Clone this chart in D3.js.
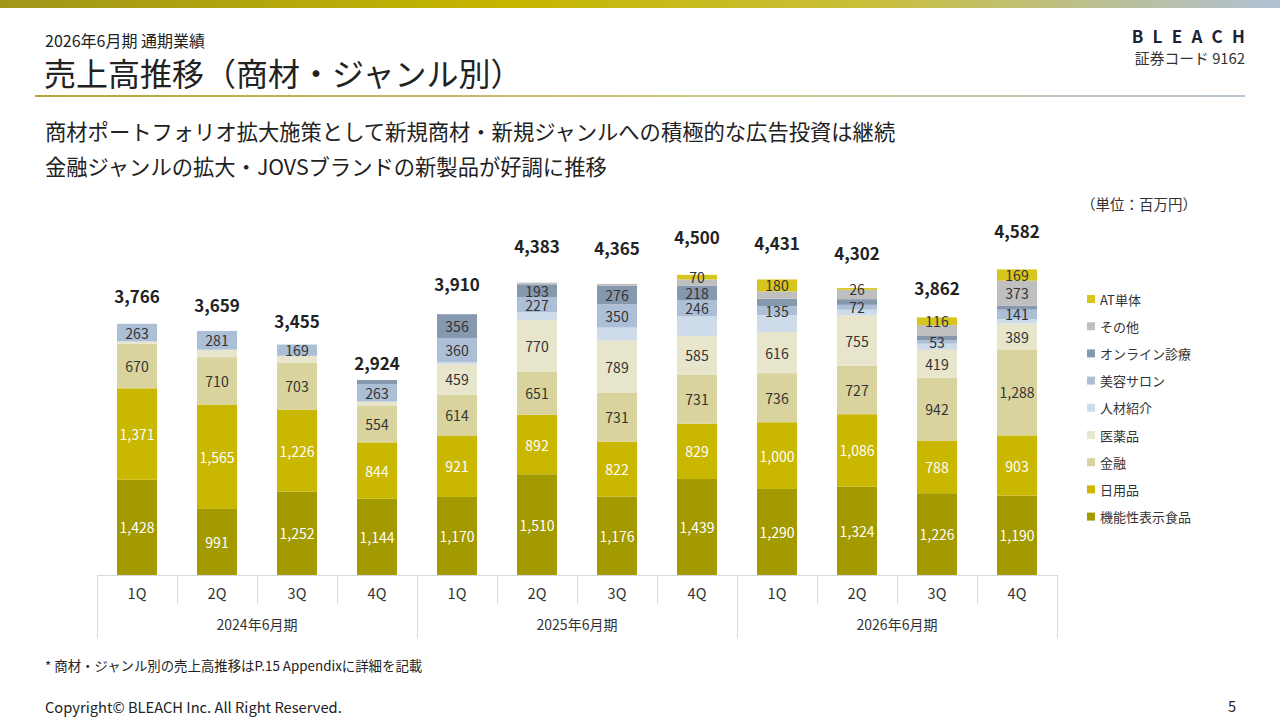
<!DOCTYPE html>
<html lang="ja">
<head>
<meta charset="utf-8">
<script src="https://cdn.jsdelivr.net/npm/d3@7"></script>
<style>
  body { margin: 0; background: #fff; }
  svg { display: block; font-family: "Noto Sans CJK JP", "Noto Sans", sans-serif; }
</style>
</head>
<body>
<div id="chart"></div>
<script>
// quarters and fiscal years
const quarters = ["1Q", "2Q", "3Q", "4Q", "1Q", "2Q", "3Q", "4Q", "1Q", "2Q", "3Q", "4Q"];
const fiscalYears = ["2024年6月期", "2025年6月期", "2026年6月期"];

// series, bottom to top
const seriesNames = ["機能性表示食品", "日用品", "金融", "医薬品", "人材紹介", "美容サロン", "オンライン診療", "その他", "AT単体"];
const kinouseiValues = [1428, 991, 1252, 1144, 1170, 1510, 1176, 1439, 1290, 1324, 1226, 1190];
const nichiyouValues = [1371, 1565, 1226, 844, 921, 892, 822, 829, 1000, 1086, 788, 903];
const kinyuuValues = [670, 710, 703, 554, 614, 651, 731, 731, 736, 727, 942, 1288];
const iyakuValues = [34, 112, 105, 59, 459, 770, 789, 585, 616, 755, 419, 389];
const jinzaiValues = [0, 0, 0, 0, 30, 115, 191, 292, 252, 86, 93, 67];
const biyouValues = [263, 281, 169, 263, 360, 227, 350, 246, 135, 72, 53, 141];
const onlineValues = [0, 0, 0, 60, 356, 193, 276, 218, 112, 86, 70, 62];
const sonotaValues = [0, 0, 0, 0, 0, 25, 30, 90, 110, 140, 155, 373];
const atValues = [0, 0, 0, 0, 0, 0, 0, 70, 180, 26, 116, 169];
const totals = [3766, 3659, 3455, 2924, 3910, 4383, 4365, 4500, 4431, 4302, 3862, 4582];

// which quarters show a value label (series not listed: all non-zero)
const iyakuLabelled = [4, 5, 6, 7, 8, 9, 10, 11];
const jinzaiLabelled = [];
const onlineLabelled = [4, 5, 6, 7];
const sonotaLabelled = [11];

const seriesValues = [kinouseiValues, nichiyouValues, kinyuuValues, iyakuValues, jinzaiValues,
  biyouValues, onlineValues, sonotaValues, atValues];
const labelledBySeries = {
  "医薬品": iyakuLabelled,
  "人材紹介": jinzaiLabelled,
  "オンライン診療": onlineLabelled,
  "その他": sonotaLabelled,
};

const colors = ["#a39a00", "#c9b700", "#d9d39d", "#e7e5cb", "#cedce9", "#adbfd6", "#8698ae", "#bfbfbf", "#d8c51b"];

class StackedChart {
  constructor() {
    this.config = {
      width: 1280,
      height: 720,
      left: 97,
      right: 1057,
      base: 575,
      quarterRow: 604,
      yearRow: 638,
    };
    this.initVis();
  }

  initVis() {
    const vis = this;
    const c = vis.config;
    vis.svg = d3.select("#chart").append("svg")
      .attr("width", c.width)
      .attr("height", c.height);

    vis.drawHeader();

    vis.x = d3.scaleBand()
      .domain(d3.range(quarters.length))
      .range([c.left, c.right])
      .paddingInner(0.5)
      .paddingOuter(0.25);

    vis.y = d3.scaleLinear().domain([0, 5000]).range([c.base, c.base - 5000 * 0.0667]);
    // the totals sit on their own (secondary) scale, as in the original slide
    vis.yTotal = d3.scaleLinear().domain([0, 5000]).range([597.5, 597.5 - 5000 * 0.0802]);

    vis.updateVis();
  }

  drawHeader() {
    const vis = this;
    const defs = vis.svg.append("defs");
    const band = defs.append("linearGradient").attr("id", "band");
    band.append("stop").attr("offset", "0%").attr("stop-color", "#a0961a");
    band.append("stop").attr("offset", "40%").attr("stop-color", "#c6b600");
    band.append("stop").attr("offset", "68%").attr("stop-color", "#c9bf3a");
    band.append("stop").attr("offset", "100%").attr("stop-color", "#b0c0d6");

    const rule = defs.append("linearGradient").attr("id", "rule");
    rule.append("stop").attr("offset", "0%").attr("stop-color", "#b2a838");
    rule.append("stop").attr("offset", "60%").attr("stop-color", "#cfc98c");
    rule.append("stop").attr("offset", "100%").attr("stop-color", "#b6c3d3");

    vis.svg.append("rect").attr("x", 0).attr("y", 0).attr("width", 1280).attr("height", 8)
      .attr("fill", "url(#band)");
    vis.svg.append("rect").attr("x", 35).attr("y", 95).attr("width", 1210).attr("height", 2)
      .attr("fill", "url(#rule)");

    const text = (x, y, str, size, opts = {}) =>
      vis.svg.append("text")
        .attr("x", x).attr("y", y)
        .attr("dominant-baseline", "central")
        .attr("text-anchor", opts.anchor || "start")
        .attr("font-size", size)
        .attr("font-weight", opts.weight || 400)
        .attr("fill", opts.fill || "#222")
        .text(str);

    text(45, 40, "2026年6月期 通期業績", 16);
    text(44, 72, "売上高推移（商材・ジャンル別）", 32);
    text(1245, 35, "BLEACH", 17, { anchor: "end", weight: 700, fill: "#1b2333" })
      .attr("letter-spacing", "0.55em")
      .attr("dx", "0.55em");
    text(1245, 57, "証券コード 9162", 14.8, { anchor: "end", fill: "#333" });

    text(45, 130, "商材ポートフォリオ拡大施策として新規商材・新規ジャンルへの積極的な広告投資は継続", 21.3);
    text(45, 165, "金融ジャンルの拡大・JOVSブランドの新製品が好調に推移", 21.3);
    text(1197, 203, "（単位：百万円）", 14.5, { anchor: "end", fill: "#333" });

    text(45, 665, "* 商材・ジャンル別の売上高推移はP.15 Appendixに詳細を記載", 13.4);
    text(45, 706, "Copyright© BLEACH Inc. All Right Reserved.", 14.7);
    text(1236, 705, "5", 14.5, { anchor: "end" });
  }

  updateVis() {
    const vis = this;
    const c = vis.config;

    const table = quarters.map((q, i) => {
      const row = { i };
      seriesNames.forEach((s, k) => { row[s] = seriesValues[k][i]; });
      return row;
    });
    const stacked = d3.stack().keys(seriesNames)(table);

    const layers = vis.svg.selectAll(".layer")
      .data(stacked)
      .join("g")
      .attr("class", "layer")
      .attr("fill", (d, k) => colors[k]);

    layers.selectAll("rect")
      .data((d) => d)
      .join("rect")
      .attr("x", (d) => vis.x(d.data.i))
      .attr("width", vis.x.bandwidth())
      .attr("y", (d) => vis.y(d[1]))
      .attr("height", (d) => vis.y(d[0]) - vis.y(d[1]));

    // segment labels
    stacked.forEach((layer, k) => {
      const name = seriesNames[k];
      const shown = labelledBySeries[name];
      const pts = layer.filter((d) => (d[1] - d[0]) > 0 && (!shown || shown.includes(d.data.i)));
      vis.svg.append("g")
        .selectAll("text")
        .data(pts)
        .join("text")
        .attr("x", (d) => vis.x(d.data.i) + vis.x.bandwidth() / 2)
        .attr("y", (d) => (vis.y(d[0]) + vis.y(d[1])) / 2)
        .attr("text-anchor", "middle")
        .attr("dominant-baseline", "central")
        .attr("font-size", 14)
        .attr("fill", k < 2 ? "#fff" : "#333")
        .text((d) => d3.format(",")(d[1] - d[0]));
    });

    // totals
    vis.svg.append("g")
      .selectAll("text")
      .data(totals)
      .join("text")
      .attr("x", (d, i) => vis.x(i) + vis.x.bandwidth() / 2)
      .attr("y", (d) => vis.yTotal(d))
      .attr("text-anchor", "middle")
      .attr("dominant-baseline", "central")
      .attr("font-size", 17)
      .attr("font-weight", 700)
      .attr("fill", "#222")
      .text((d) => d3.format(",")(d));

    // category table under the bars
    const step = vis.x.step();
    const grid = vis.svg.append("g").attr("stroke", "#d9d9d9").attr("stroke-width", 1);
    grid.append("line")
      .attr("x1", c.left).attr("x2", c.right)
      .attr("y1", c.base + 0.5).attr("y2", c.base + 0.5);
    d3.range(quarters.length + 1).forEach((i) => {
      const bx = Math.round(c.left + i * step) + 0.5;
      grid.append("line")
        .attr("x1", bx).attr("x2", bx)
        .attr("y1", c.base)
        .attr("y2", i % 4 === 0 ? c.yearRow : c.quarterRow);
    });

    vis.svg.append("g")
      .selectAll("text")
      .data(quarters)
      .join("text")
      .attr("x", (d, i) => vis.x(i) + vis.x.bandwidth() / 2)
      .attr("y", 592)
      .attr("text-anchor", "middle")
      .attr("dominant-baseline", "central")
      .attr("font-size", 14.5)
      .attr("fill", "#333")
      .text((d) => d);

    vis.svg.append("g")
      .selectAll("text")
      .data(fiscalYears)
      .join("text")
      .attr("x", (d, j) => c.left + (j * 4 + 2) * step)
      .attr("y", 624)
      .attr("text-anchor", "middle")
      .attr("dominant-baseline", "central")
      .attr("font-size", 14)
      .attr("fill", "#333")
      .text((d) => d);

    // legend, top entry first
    const legendOrder = seriesNames.map((s, k) => k).reverse();
    const legend = vis.svg.append("g")
      .selectAll("g")
      .data(legendOrder)
      .join("g")
      .attr("transform", (k, r) => `translate(1087,${299 + r * 27.2})`);
    legend.append("rect")
      .attr("x", 0).attr("y", -4)
      .attr("width", 8).attr("height", 8)
      .attr("fill", (k) => colors[k]);
    legend.append("text")
      .attr("x", 13)
      .attr("dominant-baseline", "central")
      .attr("font-size", 13)
      .attr("fill", "#333")
      .text((k) => seriesNames[k]);
  }
}

new StackedChart();
</script>
</body>
</html>
